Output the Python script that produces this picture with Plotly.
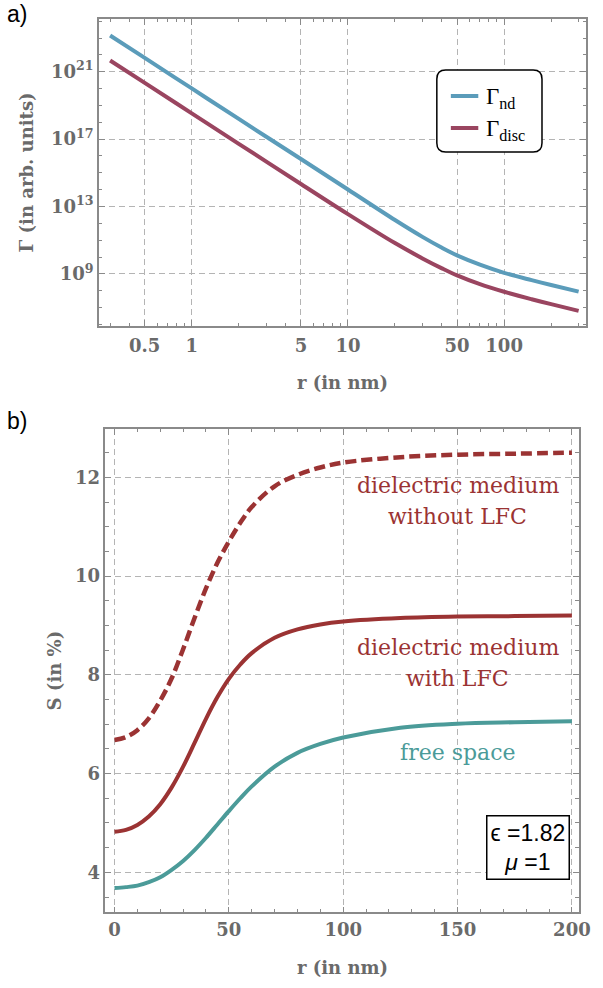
import plotly.graph_objects as go

# ---------------- data: panel a) ----------------
r_gamma = [0.3, 0.5, 1, 2, 5, 10, 20, 30, 40, 50, 70, 100, 150, 200, 300]
gamma_nd = [1.41e23, 6.61e21, 1.02e20, 1.58e18, 6.61e15, 1.02e14, 1.58e12, 1.58e11,
            3.55e10, 1.26e10, 3.55e9, 1.17e9, 4.27e8, 2.19e8, 8.91e7]
gamma_disc = [4.68e21, 2.19e20, 3.39e18, 5.25e16, 2.19e14, 3.55e12, 6.76e10, 8.32e9,
              2.14e9, 8.13e8, 2.45e8, 8.71e7, 3.16e7, 1.62e7, 6.46e6]
legend_names = ["Γ<sub>nd</sub>", "Γ<sub>disc</sub>"]
xa_tickvals = [0.5, 1, 5, 10, 50, 100]
xa_ticktext = ["0.5", "1", "5", "10", "50", "100"]
ya_tickvals = [1e9, 1e13, 1e17, 1e21]
ya_ticktext = ["10<sup>9</sup>", "10<sup>13</sup>", "10<sup>17</sup>", "10<sup>21</sup>"]

# ---------------- data: panel b) ----------------
r_s = [0, 5, 10, 15, 20, 25, 30, 35, 40, 45, 50, 55, 60, 70, 80, 90, 100, 125, 150, 175, 200]
s_free = [3.68, 3.70, 3.73, 3.80, 3.90, 4.05, 4.23, 4.45, 4.70, 4.97, 5.24, 5.50, 5.74,
          6.14, 6.42, 6.60, 6.73, 6.93, 7.01, 7.04, 7.06]
s_lfc = [4.82, 4.86, 4.96, 5.13, 5.38, 5.72, 6.14, 6.62, 7.11, 7.55, 7.92, 8.21, 8.44,
         8.75, 8.92, 9.02, 9.08, 9.15, 9.18, 9.19, 9.20]
s_nolfc = [6.68, 6.74, 6.88, 7.12, 7.48, 7.93, 8.52, 9.15, 9.75, 10.27, 10.70, 11.08, 11.40,
           11.82, 12.05, 12.20, 12.30, 12.41, 12.46, 12.48, 12.50]
xb_tickvals = [0, 50, 100, 150, 200]
yb_tickvals = [4, 6, 8, 10, 12]

W, H = 603, 988
BLUE = "#5b9cba"
PLUM = "#9a4560"
RED = "#9b3333"
TEAL = "#4b9b99"
GRID = "#b4b4b4"
AX = "#8a8a8a"
TXT = "#6a6a6a"
TICKFONT = dict(family="DejaVu Serif", size=18, color=TXT, weight="bold")


def px_x(p):
    return p / W


def px_y(p):
    return 1 - p / H


fig = go.Figure()
fig.add_trace(go.Scatter(x=r_gamma, y=gamma_nd, mode="lines", name=legend_names[0],
                         line=dict(color=BLUE, width=4, shape="spline"), xaxis="x", yaxis="y"))
fig.add_trace(go.Scatter(x=r_gamma, y=gamma_disc, mode="lines", name=legend_names[1],
                         line=dict(color=PLUM, width=4, shape="spline"), xaxis="x", yaxis="y"))
fig.add_trace(go.Scatter(x=r_s, y=s_nolfc, mode="lines", name="dielectric medium without LFC",
                         line=dict(color=RED, width=4.5, shape="spline", dash="11px,5px"),
                         xaxis="x2", yaxis="y2"))
fig.add_trace(go.Scatter(x=r_s, y=s_lfc, mode="lines", name="dielectric medium with LFC",
                         line=dict(color=RED, width=4, shape="spline"), xaxis="x2", yaxis="y2"))
fig.add_trace(go.Scatter(x=r_s, y=s_free, mode="lines", name="free space",
                         line=dict(color=TEAL, width=4, shape="spline"), xaxis="x2", yaxis="y2"))

common = dict(showline=True, linecolor=AX, linewidth=1.5, mirror="allticks",
              ticks="inside", ticklen=6, tickcolor=AX, tickwidth=1,
              showgrid=True, gridcolor=GRID, gridwidth=1, griddash="6px,4px",
              zeroline=False, tickfont=TICKFONT)

minor_x_log = [0.3, 0.4, 0.6, 0.7, 0.8, 0.9, 2, 3, 4, 6, 7, 8, 9,
               20, 30, 40, 60, 70, 80, 90, 200, 300]
minor_y_log = [10.0 ** k for k in range(6, 25)]

fig.update_layout(
    width=W, height=H, margin=dict(l=0, r=0, t=0, b=0), autosize=False,
    paper_bgcolor="white", plot_bgcolor="white", showlegend=False,
    xaxis=dict(domain=[px_x(101), px_x(598)], anchor="y", type="log",
               range=[-0.594, 2.525], tickvals=xa_tickvals, ticktext=xa_ticktext,
               ticklabelstandoff=3,
               minor=dict(tickvals=minor_x_log, ticks="inside", ticklen=3.5,
                          tickcolor=AX, showgrid=False),
               **common),
    yaxis=dict(domain=[px_y(326), px_y(19)], anchor="x", type="log",
               range=[5.91, 24.13], tickvals=ya_tickvals, ticktext=ya_ticktext,
               minor=dict(tickvals=minor_y_log, ticks="inside", ticklen=3.5,
                          tickcolor=AX, showgrid=False),
               **common),
    xaxis2=dict(domain=[px_x(107.5), px_x(590.5)], anchor="y2",
                range=[-4.0, 203.0], tickvals=xb_tickvals,
                minor=dict(dtick=10, ticks="inside", ticklen=3.5, tickcolor=AX, showgrid=False),
                **common),
    yaxis2=dict(domain=[px_y(912.3), px_y(429)], anchor="x2",
                range=[3.19, 12.98], tickvals=yb_tickvals,
                minor=dict(dtick=0.5, ticks="inside", ticklen=3.5, tickcolor=AX, showgrid=False),
                **common),
)

# rounded legend frame (manual legend for panel a)
x0, x1 = px_x(445.7), px_x(553)
y0, y1 = px_y(152), px_y(70)
rx, ry = 9 / W, 9 / H
path = (f"M {x0+rx},{y1} L {x1-rx},{y1} Q {x1},{y1} {x1},{y1-ry} "
        f"L {x1},{y0+ry} Q {x1},{y0} {x1-rx},{y0} L {x0+rx},{y0} "
        f"Q {x0},{y0} {x0},{y0+ry} L {x0},{y1-ry} Q {x0},{y1} {x0+rx},{y1} Z")
fig.add_shape(type="path", path=path, xref="paper", yref="paper",
              line=dict(color="black", width=1.5), fillcolor="white", layer="above")
for ly, col in [(96, BLUE), (128, PLUM)]:
    fig.add_shape(type="line", xref="paper", yref="paper",
                  x0=px_x(460), x1=px_x(488), y0=px_y(ly), y1=px_y(ly),
                  line=dict(color=col, width=4), layer="above")

TITLEFONT = dict(family="DejaVu Serif", size=18, color=TXT, weight="bold")
ann = []
for name, ly in zip(legend_names, [96, 128]):
    ann.append(dict(text=name, x=px_x(494), y=px_y(ly + 2), xref="paper", yref="paper",
                    showarrow=False, font=dict(family="Liberation Serif", size=23, color="black"),
                    xanchor="left", yanchor="middle"))
ann.append(dict(text="r (in nm)", x=px_x(349), y=px_y(382), xref="paper", yref="paper",
                showarrow=False, font=TITLEFONT, xanchor="center", yanchor="middle"))
ann.append(dict(text="Γ (in arb. units)", x=px_x(28), y=px_y(172), xref="paper", yref="paper",
                showarrow=False, font=TITLEFONT, textangle=-90, xanchor="center", yanchor="middle"))
ann.append(dict(text="r (in nm)", x=px_x(349), y=px_y(967), xref="paper", yref="paper",
                showarrow=False, font=TITLEFONT, xanchor="center", yanchor="middle"))
ann.append(dict(text="S (in %)", x=px_x(55.5), y=px_y(670), xref="paper", yref="paper",
                showarrow=False, font=TITLEFONT, textangle=-90, xanchor="center", yanchor="middle"))
ann.append(dict(text="a)", x=px_x(5), y=px_y(14), xref="paper", yref="paper",
                showarrow=False, font=dict(family="Liberation Sans", size=23, color="black"),
                xanchor="left", yanchor="middle"))
ann.append(dict(text="b)", x=px_x(5), y=px_y(421), xref="paper", yref="paper",
                showarrow=False, font=dict(family="Liberation Sans", size=23, color="black"),
                xanchor="left", yanchor="middle"))

LABFONT_R = dict(family="DejaVu Serif", size=22, color=RED)
LABFONT_T = dict(family="DejaVu Serif", size=22, color=TEAL)
for txt, yy, fnt in [("dielectric medium", 11.84, LABFONT_R), ("without LFC", 11.20, LABFONT_R),
                     ("dielectric medium", 8.55, LABFONT_R), ("with LFC", 7.92, LABFONT_R),
                     ("free space", 6.43, LABFONT_T)]:
    ann.append(dict(text=txt, x=150, y=yy, xref="x2", yref="y2", showarrow=False,
                    font=fnt, xanchor="center", yanchor="middle"))

ann.append(dict(text="ϵ =1.82<br><i>μ</i> =1", x=px_x(538.7), y=px_y(847.5),
                xref="paper", yref="paper", showarrow=False,
                font=dict(family="Liberation Sans", size=23, color="black"),
                bordercolor="black", borderwidth=1.5, borderpad=3, bgcolor="white",
                xanchor="center", yanchor="middle"))
fig.update_layout(annotations=ann)

fig.write_html(
    "out.html",
    config={"displayModeBar": False, "responsive": False},
    post_script=("document.documentElement.style.margin='0px';"
                 "document.body.style.margin='0px';"
                 "document.documentElement.style.overflow='hidden';"
                 "document.body.style.overflow='hidden';"),
)
